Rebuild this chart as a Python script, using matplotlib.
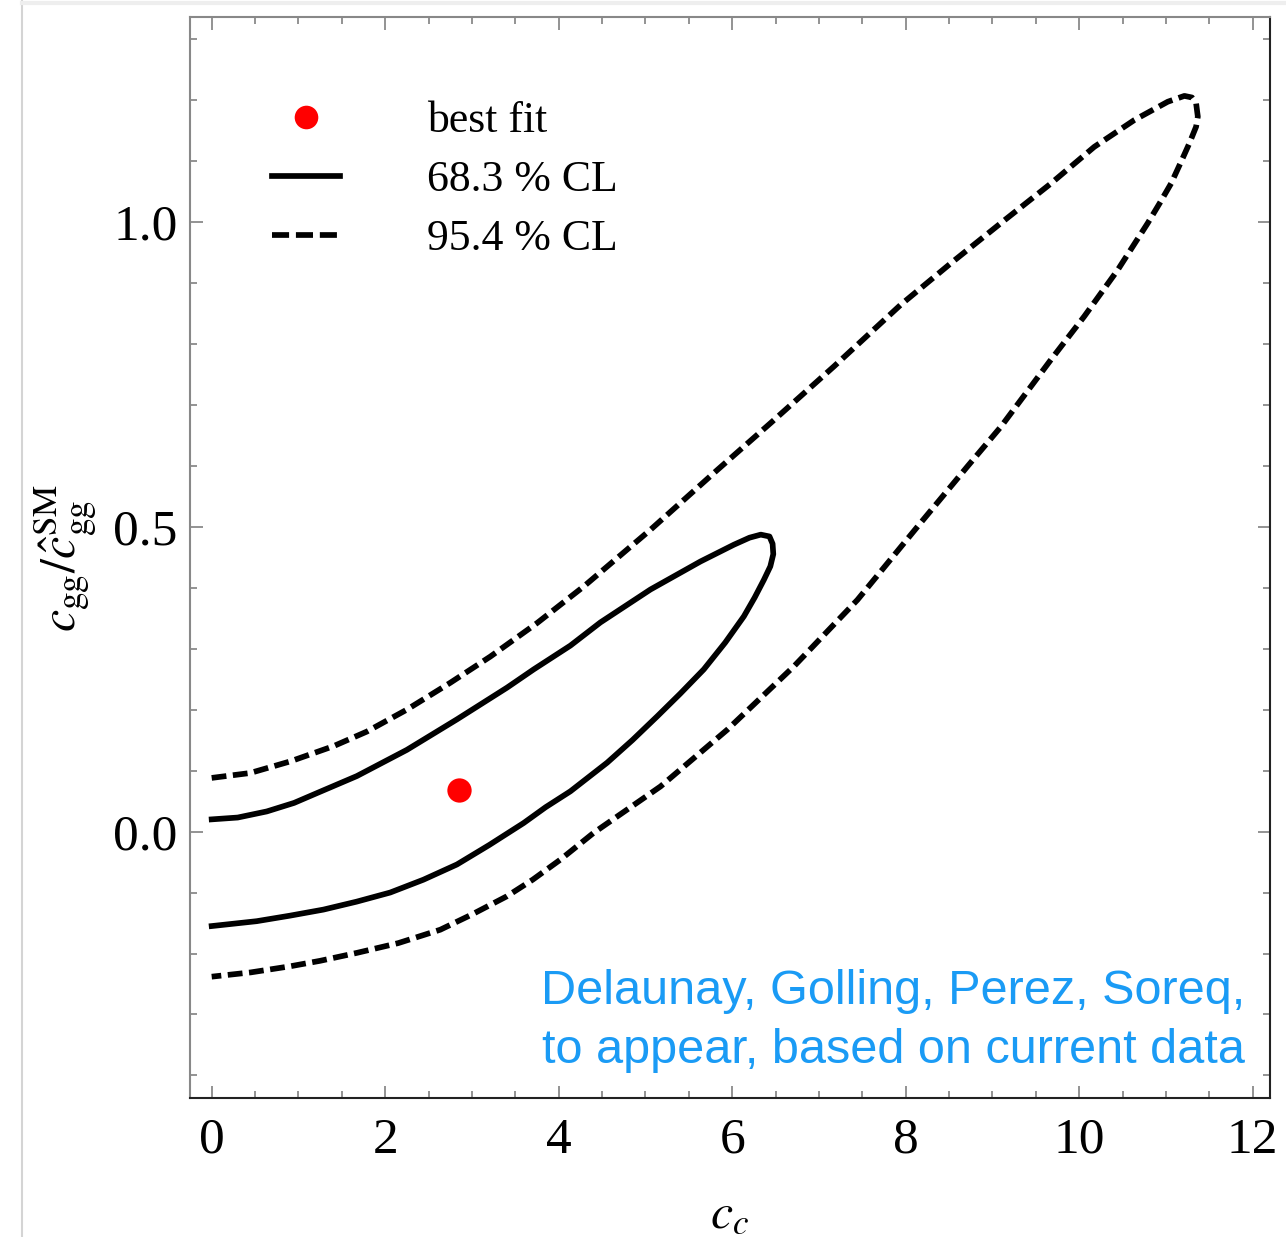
"""
Fit contours for c_c vs c_gg / c_gg^SM
"""
import matplotlib
matplotlib.use("Agg")
import matplotlib.pyplot as plt
from matplotlib.lines import Line2D
from matplotlib.ticker import MultipleLocator

# best fit point
best_cc = 2.85
best_cgg = 0.068

# 68.3 % CL contour (upper branch -> tip -> lower branch)
cl68_cc = [0.0, 0.3, 0.635, 0.95, 1.212, 1.673, 2.250, 2.827, 3.404, 3.712,
           4.135, 4.481, 5.058, 5.635, 6.020, 6.20, 6.33, 6.43, 6.466, 6.474,
           6.44, 6.366, 6.26, 6.135, 5.92, 5.673, 5.40, 5.136, 4.85, 4.559,
           4.135, 3.85, 3.596, 3.2, 2.827, 2.44, 2.058, 1.67, 1.288, 0.9,
           0.519, 0.0]
cl68_cgg = [0.020, 0.023, 0.033, 0.047, 0.063, 0.091, 0.134, 0.184, 0.236, 0.266,
            0.305, 0.343, 0.397, 0.443, 0.4705, 0.482, 0.487, 0.484, 0.472, 0.455,
            0.435, 0.413, 0.384, 0.353, 0.310, 0.266, 0.226, 0.189, 0.150, 0.113,
            0.066, 0.040, 0.014, -0.022, -0.054, -0.079, -0.100, -0.115, -0.128, -0.138,
            -0.147, -0.155]

# 95.4 % CL contour
cl95_cc = [0.0, 0.442, 0.904, 1.403, 1.789, 2.250, 2.750, 3.212, 3.751, 4.289,
           5.058, 5.828, 6.443, 7.174, 7.943, 8.520, 9.098, 9.675, 10.174, 10.636,
           11.021, 11.213, 11.30, 11.348, 11.368, 11.348, 11.271, 11.17, 11.06, 10.93,
           10.791, 10.444, 10.059, 9.675, 9.098, 8.713, 8.136, 7.444, 6.712, 5.943,
           5.174, 4.404, 4.020, 3.7, 3.405, 3.0, 2.635, 2.15, 1.673, 1.25,
           0.904, 0.45, 0.0]
cl95_cgg = [0.088, 0.096, 0.115, 0.140, 0.164, 0.200, 0.244, 0.287, 0.342, 0.402,
            0.495, 0.593, 0.670, 0.763, 0.864, 0.932, 0.998, 1.063, 1.123, 1.167,
            1.197, 1.2066, 1.204, 1.1946, 1.1726, 1.156, 1.129, 1.097, 1.063, 1.031,
            0.998, 0.921, 0.845, 0.774, 0.664, 0.599, 0.500, 0.380, 0.271, 0.167,
            0.074, -0.002, -0.046, -0.079, -0.106, -0.136, -0.161, -0.183, -0.199, -0.212,
            -0.221, -0.231, -0.238]

legend_labels = ["best fit", "68.3 % CL", "95.4 % CL"]
credit = "Delaunay, Golling, Perez, Soreq,\nto appear, based on current data"

plt.rcParams["font.family"] = ["Liberation Serif", "DejaVu Serif"]
plt.rcParams["mathtext.fontset"] = "stix"

fig = plt.figure(figsize=(12.86, 12.37), dpi=100)
ax = fig.add_axes([190 / 1286, 1 - 1098 / 1237, 1080 / 1286, 1081 / 1237])

lw = 4.1
dash = (2.6, 1.15)
ax.plot(cl95_cc, cl95_cgg, color="black", lw=lw, dashes=dash)
ax.plot(cl68_cc, cl68_cgg, color="black", lw=lw, solid_joinstyle="round")
ax.plot(best_cc, best_cgg, "o", color="red", ms=17.5, mec="none")

ax.set_xlim(-0.25, 12.2)
ax.set_ylim(-0.437, 1.336)
ax.xaxis.set_major_locator(MultipleLocator(2))
ax.xaxis.set_minor_locator(MultipleLocator(0.5))
ax.yaxis.set_major_locator(MultipleLocator(0.5))
ax.yaxis.set_minor_locator(MultipleLocator(0.1))
ax.yaxis.set_major_formatter(lambda v, p: f"{v:.1f}")

ax.tick_params(which="both", direction="in", top=True, right=True,
               color="#808080", width=1.2, labelsize=37)
ax.tick_params(which="major", length=9)
ax.tick_params(which="minor", length=5)
ax.tick_params(axis="x", pad=14)
ax.tick_params(axis="y", pad=9)
for side in ["left", "top"]:
    ax.spines[side].set_color("#888888")
for side in ["bottom", "right"]:
    ax.spines[side].set_color("#222222")
for s in ax.spines.values():
    s.set_linewidth(1.5)

ax.set_xlabel(r"$c_c$", fontsize=36, labelpad=20)
ax.set_ylabel(r"$c_{\rm gg}/\hat{c}_{\rm gg}^{\rm SM}$", fontsize=36, labelpad=10)

handles = [
    Line2D([], [], ls="none", marker="o", ms=17, color="red", mec="none"),
    Line2D([], [], color="black", lw=lw),
    Line2D([], [], color="black", lw=lw, dashes=(3.0, 1.2)),
]
ax.legend(handles, legend_labels, loc="upper left", bbox_to_anchor=(0.076, 0.922),
          frameon=False, fontsize=31.5, handlelength=1.55, handletextpad=2.0,
          labelspacing=0.43, borderpad=0, borderaxespad=0)

ax.text(0.977, 0.023, credit, transform=ax.transAxes, ha="right", va="bottom",
        fontsize=35, color="#1a9bf5", family=["Liberation Sans", "DejaVu Sans"],
        linespacing=1.4, multialignment="right")

# screenshot border lines
fig.add_artist(Line2D([22 / 1286, 22 / 1286], [0, 1], color="#d4d4d4", lw=1.5))
fig.add_artist(Line2D([22 / 1286, 1], [1 - 3 / 1237, 1 - 3 / 1237], color="#eeeeee", lw=3))

fig.savefig("out.png", dpi=100)
